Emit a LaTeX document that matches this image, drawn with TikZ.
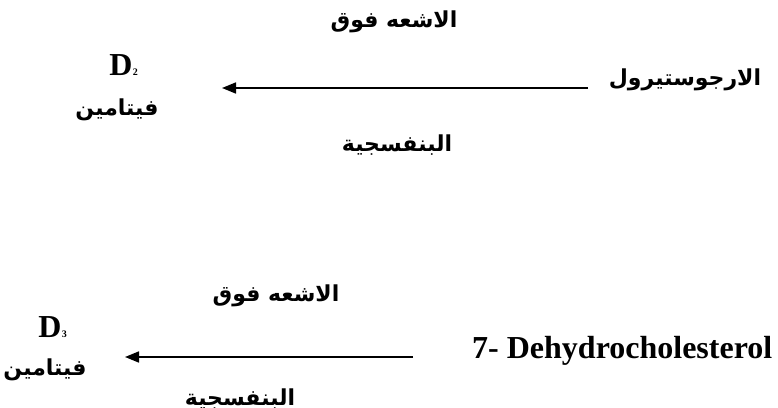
\documentclass[tikz,border=0pt]{standalone}
\usepackage{fontspec}
\setmainfont{Liberation Serif}
\newfontfamily\arabicfont[Script=Arabic]{DejaVu Sans}
\TeXXeTstate=1
\usetikzlibrary{arrows.meta}
\begin{document}
\begin{tikzpicture}[x=1pt,y=-1pt,
  ar/.style={font=\arabicfont\bfseries\fontsize{22}{25}\selectfont, inner sep=0pt},
  lat/.style={font=\bfseries\fontsize{32}{36}\selectfont, inner sep=0pt},
  sub/.style={font=\bfseries\fontsize{10}{12}\selectfont, inner sep=0pt},
  react/.style={line width=1.7pt, -{Triangle[length=14pt,width=11pt]}}]
\clip (0,0) rectangle (778,407);
\fill[white] (0,0) rectangle (778,407);

% ergosterol -> vitamin D2
\node[ar] (uv1) at (394,22) {\beginR الاشعه فوق\endR};
\node[ar] (vio1) at (397,145) {\beginR البنفسجية\endR};
\node[ar] (ergo) at (685,80) {\beginR الارجوستيرول\endR};
\node[ar] (vit2) at (117,110) {\beginR فيتامين\endR};
\node[lat,anchor=base] (d2) at (121,75) {D};
\node[sub,anchor=base west] (d2s) at (d2.base east) {2};
\coordinate (a1s) at (588,88);
\coordinate (a1e) at (222,88);
\draw[react] (a1s) -- (a1e);

% 7-dehydrocholesterol -> vitamin D3
\node[ar] (uv2) at (276,296) {\beginR الاشعه فوق\endR};
\node[ar] (vio2) at (240,399) {\beginR البنفسجية\endR};
\node[lat,anchor=base west] (dhc) at (472,358) {7- Dehydrocholesterol};
\node[ar] (vit3) at (45,370) {\beginR فيتامين\endR};
\node[lat,anchor=base] (d3) at (50,337) {D};
\node[sub,anchor=base west] (d3s) at (d3.base east) {3};
\coordinate (a2s) at (413,357);
\coordinate (a2e) at (125,357);
\draw[react] (a2s) -- (a2e);
\end{tikzpicture}
\end{document}
